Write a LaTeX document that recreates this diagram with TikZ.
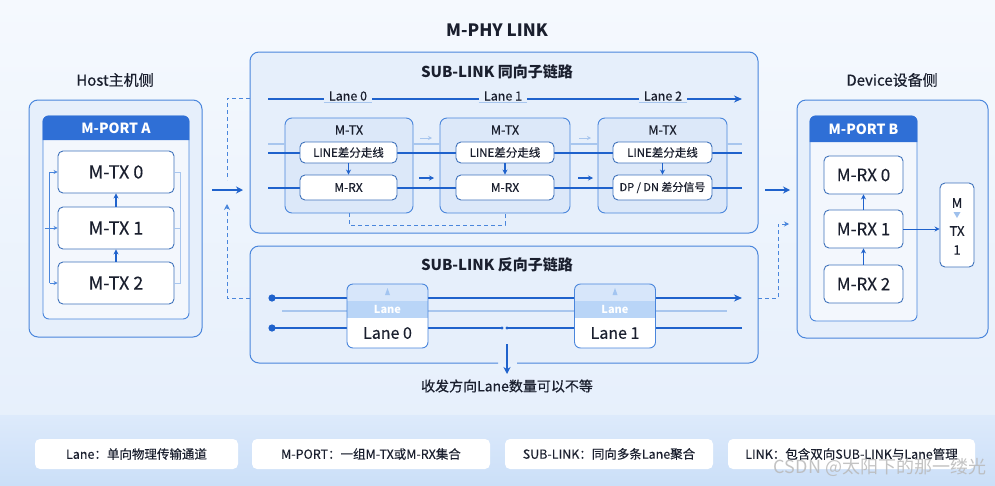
\documentclass[tikz,border=0pt]{standalone}
\usepackage{fontspec}
\setmainfont{Noto Sans CJK SC}
\newfontfamily\medfont[FakeBold=0.5]{Noto Sans CJK SC}
\newfontfamily\semfont[FakeBold=0.25]{Noto Sans CJK SC}
\usetikzlibrary{arrows.meta}
\definecolor{bord}{HTML}{4A86DC}
\definecolor{dblue}{HTML}{1F62CC}
\definecolor{hdr}{HTML}{2F6FD6}
\definecolor{lblue}{HTML}{A8C6EE}
\definecolor{txt}{HTML}{1A1F2E}
\definecolor{panel}{HTML}{E6EFFB}
\definecolor{portfill}{HTML}{F3F7FD}
\definecolor{mtxfill}{HTML}{DCE8F9}
\definecolor{hlA}{HTML}{D7E6FA}
\definecolor{hlB}{HTML}{B9D5F7}
\definecolor{bgtop}{HTML}{F5F9FE}
\definecolor{bgbot}{HTML}{E4EEFB}
\definecolor{bandtop}{HTML}{DDEAFB}
\definecolor{bandbot}{HTML}{CBDFF8}
\tikzset{
  outerbox/.style={draw=bord, line width=1pt, rounded corners=9pt, fill=panel, inner sep=0pt},
  portbox/.style={draw=bord, line width=0.9pt, rounded corners=6pt, fill=portfill, inner sep=0pt},
  wbox/.style={draw=bord!85!black, line width=0.9pt, rounded corners=5pt, fill=white, text=txt, inner sep=0pt},
  mtxbox/.style={draw=bord, line width=0.9pt, rounded corners=7pt, fill=mtxfill, inner sep=0pt},
  arr/.style={-{Stealth[length=7pt,width=7pt]}, dblue, line width=1.5pt},
  arrS/.style={-{Stealth[length=5pt,width=5pt]}, dblue, line width=1.1pt},
  dline/.style={dblue, line width=2pt},
  lightline/.style={lblue, line width=1.1pt},
  dashline/.style={bord, line width=0.9pt, dash pattern=on 4pt off 3pt},
  lbl/.style={text=txt, inner sep=1pt},
  legbox/.style={fill=white, rounded corners=5pt, minimum height=30pt, text=txt, font=\semfont\fontsize{12.5}{14}\selectfont, inner sep=0pt},
}
\begin{document}
\begin{tikzpicture}[x=1pt,y=-1pt]
\useasboundingbox (0,0) rectangle (995,485);
\fill[top color=bgtop, bottom color=bgbot] (0,0) rectangle (995,485);
\fill[top color=bandtop, bottom color=bandbot] (0,415) rectangle (995,485);

% title
\node[lbl, font=\bfseries\fontsize{17}{19}\selectfont] (title) at (497,30) {M-PHY LINK};

% ---------- Host ----------
\node[lbl, font=\medfont\fontsize{15}{17}\selectfont] (hostlbl) at (115,80) {Host主机侧};
\node[outerbox, minimum width=173pt, minimum height=237pt] (host) at (115.5,218.5) {};
\node[portbox, minimum width=146pt, minimum height=203pt] (porta) at (116,217.5) {};
\fill[hdr] (porta.west |- 0,140) {[rounded corners=6pt] -- (porta.north west) -- (porta.north east)} -- (porta.east |- 0,140) -- cycle;
\node[text=white, font=\bfseries\fontsize{14}{16}\selectfont] (portaT) at (116,128) {M-PORT A};
\node[wbox, minimum width=116pt, minimum height=42pt, font=\semfont\fontsize{18}{20}\selectfont] (tx0) at (116,172) {M-TX 0};
\node[wbox, minimum width=116pt, minimum height=42pt, font=\semfont\fontsize{18}{20}\selectfont] (tx1) at (116,228) {M-TX 1};
\node[wbox, minimum width=116pt, minimum height=42pt, font=\semfont\fontsize{18}{20}\selectfont] (tx2) at (116,283) {M-TX 2};
\draw[arrS] (tx2.north) -- (tx1.south);
\draw[arrS] (tx1.north) -- (tx0.south);
\draw[bord, line width=0.8pt] ([xshift=-8pt]tx0.west) -- ([xshift=-8pt]tx2.west);
\draw[bord, line width=0.8pt, -{Stealth[length=4pt,width=4pt]}] ([xshift=-8pt]tx0.west) -- (tx0.west);
\draw[bord, line width=0.8pt, -{Stealth[length=4pt,width=4pt]}] ([xshift=-13pt]tx1.west) -- (tx1.west);
\draw[bord, line width=0.8pt, -{Stealth[length=4pt,width=4pt]}] ([xshift=-8pt]tx2.west) -- (tx2.west);
\draw[lblue, line width=0.8pt] (tx0.east) -- ++(6,0) |- (tx2.east);
\draw[lblue, line width=0.8pt] (tx1.east) -- ++(6,0);

% host -> sublink
\coordinate (ha) at (212,190);
\coordinate (hb) at (243,190);
\draw[arr] (ha) -- (hb);

% ---------- Upper SUB-LINK ----------
\node[outerbox, minimum width=508pt, minimum height=181pt] (sup) at (504,142.5) {};
\node[lbl, font=\bfseries\fontsize{15}{17}\selectfont] (supT) at (497,72) {SUB-LINK 同向子链路};
\coordinate (dtA) at (250,98);
\coordinate (dtB) at (227,98);
\coordinate (dtC) at (227,180);
\draw[dashline] (dtA) -- (dtB) -- (dtC);

% lane labels
\node[lbl, font=\semfont\fontsize{12.5}{14}\selectfont, inner xsep=5pt] (lane0) at (348,96) {Lane 0};
\node[lbl, font=\semfont\fontsize{12.5}{14}\selectfont, inner xsep=5pt] (lane1) at (503,96) {Lane 1};
\node[lbl, font=\semfont\fontsize{12.5}{14}\selectfont, inner xsep=5pt] (lane2) at (663,96) {Lane 2};
\coordinate (ls) at (268,99);
\coordinate (le) at (742,99);
\draw[dline] (ls) -- (lane0.west |- ls);
\draw[dline] (lane0.east |- ls) -- (lane1.west |- ls);
\draw[dline] (lane1.east |- ls) -- (lane2.west |- ls);
\draw[dline, -{Stealth[length=8pt,width=7pt]}] (lane2.east |- ls) -- (le);
\foreach \n in {lane0,lane1,lane2}{
  \draw[lightline] ([yshift=-1pt]\n.south west) -- ([yshift=-1pt]\n.south east);
}

% M-TX panels
\node[mtxbox, minimum width=128pt, minimum height=95pt] (mtx1) at (349,165.5) {};
\node[mtxbox, minimum width=130pt, minimum height=95pt] (mtx2) at (505,165.5) {};
\node[mtxbox, minimum width=129pt, minimum height=95pt] (mtx3) at (662.5,165.5) {};
\node[lbl, font=\semfont\fontsize{12.5}{14}\selectfont] (mtxT1) at (349,130) {M-TX};
\node[lbl, font=\semfont\fontsize{12.5}{14}\selectfont] (mtxT2) at (505,130) {M-TX};
\node[lbl, font=\semfont\fontsize{12.5}{14}\selectfont] (mtxT3) at (662.5,130) {M-TX};

% through lines
\coordinate (ua) at (268,152.5);
\coordinate (ub) at (742,152.5);
\coordinate (va) at (268,187.5);
\coordinate (vb) at (742,187.5);
\draw[dline] (ua) -- (ub);
\draw[dline] (va) -- (vb);
\coordinate (wa) at (268,144);
\coordinate (wb) at (742,144);
\draw[lightline] (wa) -- (wa -| mtx1.west);
\draw[lightline] (wa -| mtx1.east) -- (wa -| mtx2.west);
\draw[lightline] (wa -| mtx2.east) -- (wa -| mtx3.west);
\draw[lightline] (wa -| mtx3.east) -- (wb);
% small arrows between panels
\coordinate (s1a) at (420,138); \coordinate (s1b) at (432,138);
\coordinate (s2a) at (579,138); \coordinate (s2b) at (591,138);
\draw[lblue, line width=0.9pt, -{Stealth[length=4pt,width=4pt]}] (s1a) -- (s1b);
\draw[lblue, line width=0.9pt, -{Stealth[length=4pt,width=4pt]}] (s2a) -- (s2b);
\coordinate (t1a) at (419,178); \coordinate (t1b) at (434,178);
\coordinate (t2a) at (578,178); \coordinate (t2b) at (593,178);
\draw[arrS] (t1a) -- (t1b);
\draw[arrS] (t2a) -- (t2b);

% inner boxes
\node[wbox, minimum width=97pt, minimum height=21pt, font=\semfont\fontsize{11.5}{13}\selectfont] (lb1) at (348.5,152.5) {LINE差分走线};
\node[wbox, minimum width=97pt, minimum height=25pt, font=\semfont\fontsize{12}{14}\selectfont] (rx1) at (348.5,187.5) {M-RX};
\node[wbox, minimum width=98pt, minimum height=21pt, font=\semfont\fontsize{11.5}{13}\selectfont] (lb2) at (505,152.5) {LINE差分走线};
\node[wbox, minimum width=98pt, minimum height=25pt, font=\semfont\fontsize{12}{14}\selectfont] (rx2) at (505,187.5) {M-RX};
\node[wbox, minimum width=99pt, minimum height=21pt, font=\semfont\fontsize{11.5}{13}\selectfont] (lb3) at (662.5,152.5) {LINE差分走线};
\node[wbox, minimum width=99pt, minimum height=25pt, font=\semfont\fontsize{11}{13}\selectfont] (rx3) at (662.5,187.5) {DP / DN 差分信号};
\draw[arrS] (lb1.south) -- (rx1.north);
\draw[arrS] (lb2.south) -- (rx2.north);
\draw[arrS] (lb3.south) -- (rx3.north);
\draw[dashline] (mtx1.south) -- ++(0,12) -| (mtx2.south);

% ---------- Lower SUB-LINK ----------
\node[fill=panel, rounded corners=9pt, minimum width=508pt, minimum height=117pt, inner sep=0pt] (sdn) at (504,304.5) {};
\draw[bord, line width=1pt, rounded corners=9pt] (498,363) -- (250,363) -- (250,246) -- (758,246) -- (758,363) -- (517,363);
\node[lbl, font=\bfseries\fontsize{15}{17}\selectfont] (sdnT) at (497,265) {SUB-LINK 反向子链路};
\coordinate (da) at (250,298);
\coordinate (db) at (227,298);
\coordinate (dc) at (227,204);
\draw[dashline, -{Stealth[length=6pt,width=6pt]}] (da) -- (db) -- (dc);

\coordinate (p1) at (272,298);
\coordinate (p1e) at (742,298);
\coordinate (p2) at (272,328);
\coordinate (p2m) at (502,328);
\coordinate (p2n) at (507,328);
\coordinate (p2e) at (742,328);
\draw[lightline] (282,311) -- (727,311);
\draw[dline, -{Stealth[length=8pt,width=7pt]}] (p1) -- (p1e);
\draw[dline] (p2) -- (p2m);
\draw[dline] (p2n) -- (p2e);
\fill[dblue] (p1) circle (3.6pt);
\fill[dblue] (p2) circle (3.6pt);
\fill[dblue] (p2m) circle (1.6pt);
\fill[dblue] (p2n) circle (1.6pt);

% lane boxes
\foreach \cx/\nm/\lab in {387.5/L0/Lane 0, 615/L1/Lane 1}{
  \begin{scope}
    \clip[rounded corners=6pt] (\cx-40.5,284) rectangle (\cx+40.5,348);
    \fill[white] (\cx-40.5,284) rectangle (\cx+40.5,348);
    \fill[hlA] (\cx-40.5,284) rectangle (\cx+40.5,301);
    \fill[hlB] (\cx-40.5,301) rectangle (\cx+40.5,318);
  \end{scope}
  \fill[hlB!80!bord] (\cx-2.5,295) -- (\cx,288) -- (\cx+2.5,295) -- cycle;
  \node[draw=bord, line width=0.9pt, rounded corners=6pt, minimum width=81pt, minimum height=64pt, inner sep=0pt] (\nm) at (\cx,316) {};
  \node[text=white, font=\bfseries\fontsize{11}{12}\selectfont, inner sep=0pt] (\nm h) at (\cx,309) {Lane};
  \node[lbl, font=\semfont\fontsize{16}{18}\selectfont] (\nm t) at (\cx,333) {\lab};
}

\coordinate (dnA) at (507,344);
\node[lbl, font=\medfont\fontsize{14}{16}\selectfont] (msg) at (507,386) {收发方向Lane数量可以不等};
\draw[arr] (dnA) -- (507,374);

% ---------- Device ----------
\node[lbl, font=\medfont\fontsize{15}{17}\selectfont] (devlbl) at (892,80) {Device设备侧};
\node[outerbox, minimum width=191pt, minimum height=238pt] (dev) at (892.5,219) {};
\node[portbox, minimum width=107pt, minimum height=205pt] (portb) at (863.5,218.5) {};
\fill[hdr] (portb.west |- 0,142) {[rounded corners=6pt] -- (portb.north west) -- (portb.north east)} -- (portb.east |- 0,142) -- cycle;
\node[text=white, font=\bfseries\fontsize{14}{16}\selectfont] (portbT) at (863.5,129) {M-PORT B};
\node[wbox, minimum width=79pt, minimum height=38pt, font=\semfont\fontsize{17}{19}\selectfont] (rb0) at (863.5,175) {M-RX 0};
\node[wbox, minimum width=79pt, minimum height=38pt, font=\semfont\fontsize{17}{19}\selectfont] (rb1) at (863.5,229) {M-RX 1};
\node[wbox, minimum width=79pt, minimum height=38pt, font=\semfont\fontsize{17}{19}\selectfont] (rb2) at (863.5,284) {M-RX 2};
\draw[arrS] (rb2.north) -- (rb1.south);
\draw[arrS] (rb1.north) -- (rb0.south);
\node[wbox, minimum width=34pt, minimum height=84pt] (mtr) at (957,225) {};
\node[lbl, font=\semfont\fontsize{13}{15}\selectfont] (mtrM) at (957,203) {M};
\fill[lblue!90!bord] (953.5,212) -- (960.5,212) -- (957,218) -- cycle;
\node[lbl, font=\semfont\fontsize{13}{15}\selectfont] (mtrTX) at (957,231) {TX};
\node[lbl, font=\semfont\fontsize{13}{15}\selectfont] (mtr1) at (957,250) {1};
\draw[arrS, line width=1pt] (rb1.east) -- (rb1.east -| mtr.west);

% sublink -> device
\coordinate (ra) at (765,190);
\coordinate (rb) at (790,190);
\draw[arr] (ra) -- (rb);
\coordinate (ea) at (758,298);
\coordinate (eb) at (778,298);
\coordinate (ec) at (778,224);
\coordinate (ed) at (789,224);
\draw[dashline, -{Stealth[length=5pt,width=5pt]}] (ea) -- (eb) -- (ec) -- (ed);

% ---------- Legend ----------
\node[legbox, minimum width=203pt] (leg1) at (136.5,454) {Lane：单向物理传输通道};
\node[legbox, minimum width=238pt] (leg2) at (371,454) {M-PORT：一组M-TX或M-RX集合};
\node[legbox, minimum width=208pt] (leg3) at (609,454) {SUB-LINK：同向多条Lane聚合};
\node[legbox, minimum width=247pt] (leg4) at (851.5,454) {LINK：包含双向SUB-LINK与Lane管理};
\node[text=gray!55, opacity=0.85, font=\fontsize{18}{20}\selectfont, inner sep=0pt] (wm) at (880,467) {CSDN @太阳下的那一缕光};
\end{tikzpicture}
\end{document}
